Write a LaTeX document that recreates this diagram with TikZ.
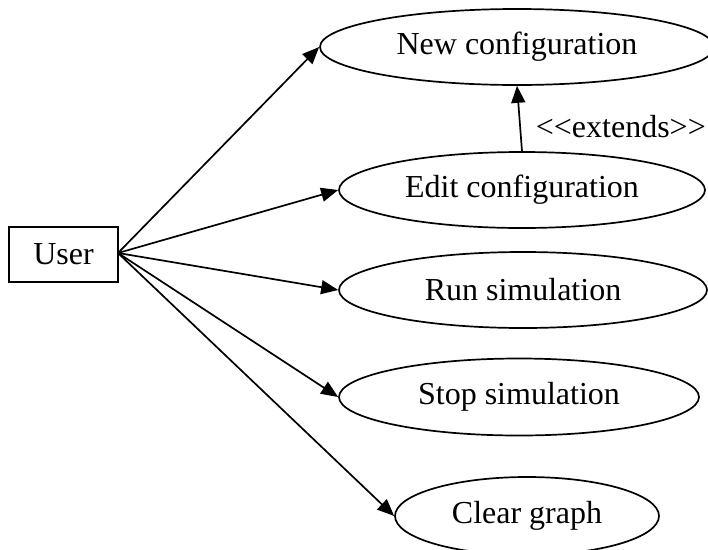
\documentclass[tikz,border=0pt]{standalone}
\usepackage{fontspec}
\setmainfont{Liberation Serif}
\usetikzlibrary{shapes.geometric,arrows.meta}
\tikzset{
  usecase/.style={draw, ellipse, line width=1.7pt, inner sep=0pt, font=\fontsize{32}{38}\selectfont},
  actor/.style={draw, rectangle, line width=1.7pt, inner sep=0pt, font=\fontsize{32}{38}\selectfont},
  arr/.style={line width=1.7pt, -{Triangle[length=17pt,width=14pt]}},
}
\begin{document}
\begin{tikzpicture}[x=1pt,y=-1pt]
\useasboundingbox (0,0) rectangle (708,549);
\node[actor, minimum width=109pt, minimum height=55pt] (user) at (63.5,254.5) {User};
\node[usecase, minimum width=394pt, minimum height=76pt] (nc) at (517,47) {New configuration};
\node[usecase, minimum width=366pt, minimum height=76pt] (ec) at (522,190) {Edit configuration};
\node[usecase, minimum width=368pt, minimum height=76pt] (rs) at (523,290) {Run simulation};
\node[usecase, minimum width=360pt, minimum height=77pt] (ss) at (519,397) {Stop simulation};
\node[usecase, minimum width=264pt, minimum height=78pt] (cg) at (527,516) {Clear graph};
\coordinate (u) at (118,253);
\draw[arr] (u) -- (nc.west);
\draw[arr] (u) -- (ec.west);
\draw[arr] (u) -- (rs.west);
\draw[arr] (u) -- (ss.west);
\draw[arr] (u) -- (cg.west);
\draw[arr] (ec.north) -- (nc.south);
\node[font=\fontsize{32}{38}\selectfont, anchor=east, inner sep=0pt] (ext) at (706,127) {<\kern0pt<extends>\kern0pt>};
\end{tikzpicture}
\end{document}
